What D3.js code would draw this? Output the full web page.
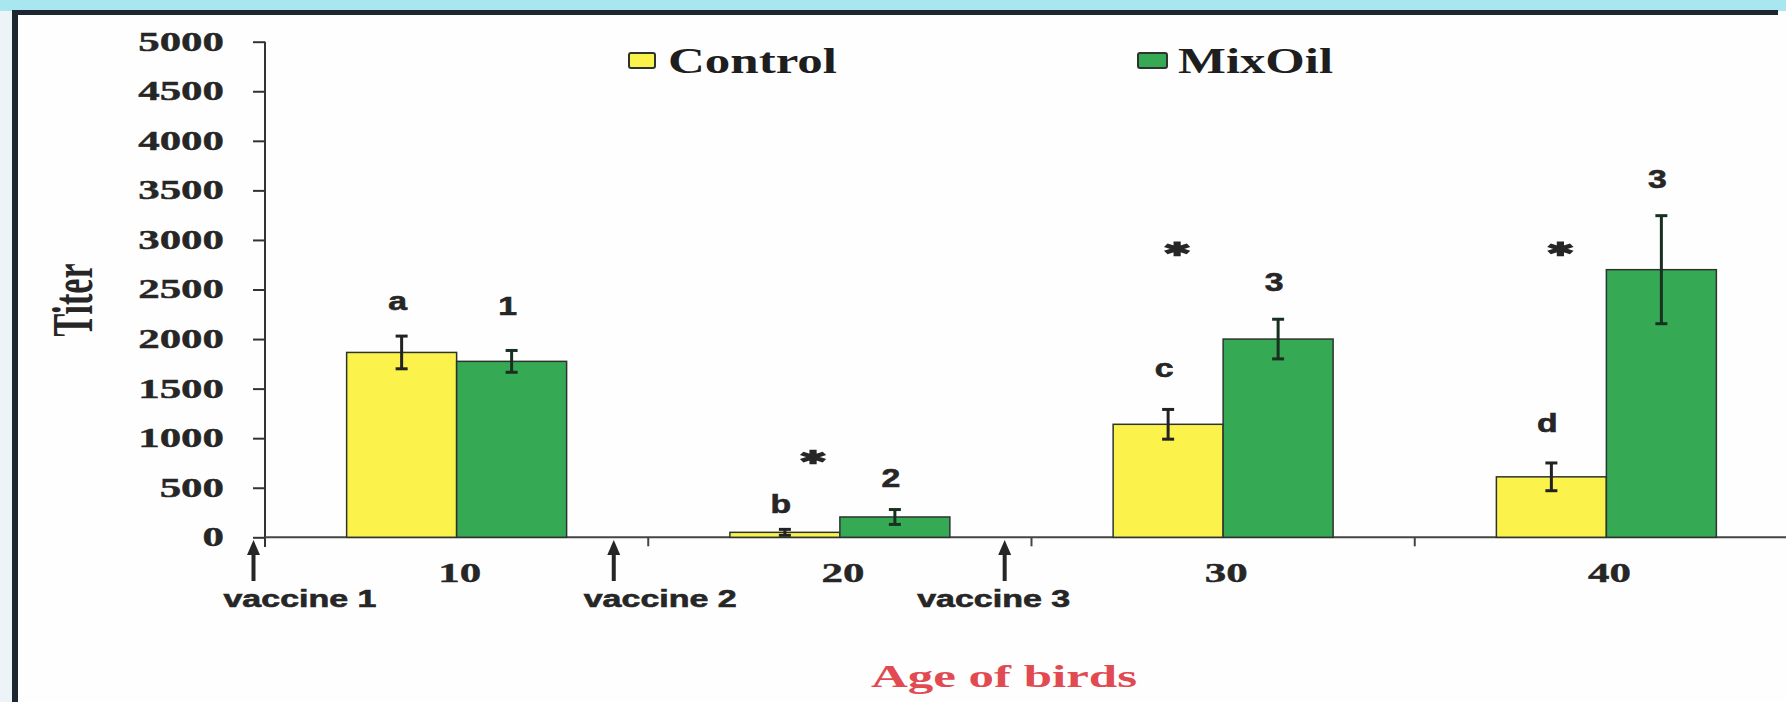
<!DOCTYPE html>
<html>
<script src="https://d3js.org/d3.v7.min.js"></script>
<style>
body {margin:0; background:#fff;}
svg text {font-weight:bold;}
</style>
<body onload="init()">
<svg></svg>
<script>

// values
var ages = [10, 20, 30, 40]
var groups = ["Control", "MixOil"]
var control = [1865, 50, 1140, 610]
var controlErr = [165, 30, 150, 140]
var mixoil = [1775, 205, 2000, 2700]
var mixoilErr = [110, 75, 200, 545]
var controlLetters = ["a", "b", "c", "d"]
var mixoilLetters = ["1", "2", "3", "3"]
var controlLetterAt = [2290, 250, 1620, 1060]
var mixoilLetterAt = [2240, 510, 2480, 3520]
var starDay = [19.3, 28.8, 38.8]
var starAt = [810, 2910, 2910]
var vaccines = ["vaccine 1", "vaccine 2", "vaccine 3"]
var vaccineDay = [4.7, 14.1, 24.3]
var vaccineLabelDay = [5.9, 15.3, 24.0]
var yTicks = [0, 500, 1000, 1500, 2000, 2500, 3000, 3500, 4000, 4500, 5000]

var colors = {Control: "#fcf24c", MixOil: "#36a955"}
var ink = "#262626"

function init() {
   var W = 1786, H = 702
   var svg = d3.select("svg").attr("width", W).attr("height", H)

   // frame of the scanned slide
   svg.append("rect").attr("width", W).attr("height", H).attr("fill", "#fefefe")
   svg.append("rect").attr("width", 12).attr("height", H).attr("fill", "#edf4f7")
   svg.append("rect").attr("width", W).attr("height", 11).attr("fill", "#a9e7f0")
   svg.append("rect").attr("x", 12).attr("y", 10).attr("width", 1766).attr("height", 5).attr("fill", "#1d2731")
   svg.append("rect").attr("x", 12).attr("y", 10).attr("width", 6).attr("height", H - 10).attr("fill", "#1d2731")

   var y = d3.scaleLinear().domain([0, 5000]).range([537.3, 41.7])
   var x0 = d3.scaleBand().domain(ages).range([265, 1798]).paddingInner(0.426).paddingOuter(0.213)
   var x1 = d3.scaleBand().domain(groups).range([0, x0.bandwidth()])
   var xAge = d3.scaleLinear().domain([5, 45]).range([265, 1798])

   // y axis
   var SX = 1.62
   var yAxis = svg.append("g").attr("transform", "translate(265,0)")
      .call(d3.axisLeft(y).tickValues(yTicks).tickFormat(d3.format("d"))
         .tickSize(12).tickSizeOuter(0).tickPadding(29))
   yAxis.select(".domain").remove()
   yAxis.selectAll("line").attr("stroke", "#333").attr("stroke-width", 2)
   yAxis.selectAll("text")
      .attr("font-family", "Liberation Serif").attr("font-size", 26.5).attr("fill", ink)
      .attr("stroke", ink).attr("stroke-width", 0.4)
      .attr("x", -41 / SX).attr("transform", "scale(" + SX + ",1)")
   svg.append("line").attr("x1", 265).attr("x2", 265).attr("y1", y(5000)).attr("y2", 547)
      .attr("stroke", "#333").attr("stroke-width", 2)

   // x axis
   var xAxis = svg.append("g").attr("transform", "translate(0," + y(0) + ")")
      .call(d3.axisBottom(x0).tickSize(0).tickPadding(26))
   xAxis.select(".domain").remove()
   xAxis.selectAll("text")
      .attr("font-family", "Liberation Serif").attr("font-size", 26.5).attr("fill", ink)
      .attr("stroke", ink).attr("stroke-width", 0.4)
      .attr("transform", "translate(3,0) scale(" + SX + ",1)")
   svg.append("line").attr("x1", 265).attr("x2", W).attr("y1", y(0)).attr("y2", y(0))
      .attr("stroke", "#444").attr("stroke-width", 2)
   svg.selectAll(".bound").data([15, 25, 35]).enter().append("line")
      .attr("x1", function(d) { return xAge(d) }).attr("x2", function(d) { return xAge(d) })
      .attr("y1", y(0)).attr("y2", y(0) + 9)
      .attr("stroke", "#444").attr("stroke-width", 2)

   // bars
   var rows = ages.map(function(a, i) {
      return [
         {age: a, key: "Control", v: control[i], e: controlErr[i], lab: controlLetters[i], labAt: controlLetterAt[i]},
         {age: a, key: "MixOil", v: mixoil[i], e: mixoilErr[i], lab: mixoilLetters[i], labAt: mixoilLetterAt[i]}
      ]
   })
   var cells = [].concat.apply([], rows)
   function cx(d) { return x0(d.age) + x1(d.key) + x1.bandwidth() / 2 }

   svg.selectAll(".bar").data(cells).enter().append("rect")
      .attr("x", function(d) { return x0(d.age) + x1(d.key) })
      .attr("y", function(d) { return y(d.v) })
      .attr("width", x1.bandwidth())
      .attr("height", function(d) { return y(0) - y(d.v) })
      .attr("fill", function(d) { return colors[d.key] })
      .attr("stroke", "#2d3430").attr("stroke-width", 1.5)

   // error bars
   var err = svg.selectAll(".err").data(cells).enter().append("g")
      .attr("stroke", function(d) { return d.key == "Control" ? "#222" : "#17301f" })
      .attr("stroke-width", 3)
   err.append("line")
      .attr("x1", cx).attr("x2", cx)
      .attr("y1", function(d) { return y(d.v + d.e) })
      .attr("y2", function(d) { return y(Math.max(0, d.v - d.e)) })
   err.append("line")
      .attr("x1", function(d) { return cx(d) - 6 }).attr("x2", function(d) { return cx(d) + 6 })
      .attr("y1", function(d) { return y(d.v + d.e) }).attr("y2", function(d) { return y(d.v + d.e) })
   err.append("line")
      .attr("x1", function(d) { return cx(d) - 6 }).attr("x2", function(d) { return cx(d) + 6 })
      .attr("y1", function(d) { return y(Math.max(0, d.v - d.e)) })
      .attr("y2", function(d) { return y(Math.max(0, d.v - d.e)) })

   // significance letters
   svg.selectAll(".lab").data(cells).enter().append("text")
      .attr("transform", function(d) { return "translate(" + (cx(d) - 4) + "," + y(d.labAt) + ") scale(1.35,1)" })
      .attr("text-anchor", "middle")
      .attr("font-family", "Liberation Sans").attr("font-size", 25).attr("fill", ink)
      .attr("stroke", ink).attr("stroke-width", 0.6)
      .text(function(d) { return d.lab })

   // asterisks
   svg.selectAll(".star").data(starDay).enter().append("path")
      .attr("d", d3.symbol(d3.symbolAsterisk).size(150))
      .attr("transform", function(d, i) {
         return "translate(" + xAge(d) + "," + y(starAt[i]) + ") scale(1.8,1)"
      })
      .attr("fill", "none").attr("stroke", ink).attr("stroke-width", 4)

   // vaccine arrows
   var vac = svg.selectAll(".vac").data(vaccines).enter().append("g")
   vac.append("line")
      .attr("x1", function(d, i) { return xAge(vaccineDay[i]) })
      .attr("x2", function(d, i) { return xAge(vaccineDay[i]) })
      .attr("y1", 552).attr("y2", 581)
      .attr("stroke", ink).attr("stroke-width", 4)
   vac.append("path")
      .attr("d", function(d, i) {
         var x = xAge(vaccineDay[i])
         return "M" + x + ",540L" + (x + 6.5) + ",555L" + (x - 6.5) + ",555Z"
      })
      .attr("fill", ink)
   vac.append("text")
      .attr("x", function(d, i) { return xAge(vaccineLabelDay[i]) - 76 })
      .attr("y", 607)
      .attr("textLength", 153).attr("lengthAdjust", "spacingAndGlyphs")
      .attr("font-family", "Liberation Sans").attr("font-size", 23).attr("fill", ink)
      .attr("stroke", ink).attr("stroke-width", 0.6)
      .text(function(d) { return d })

   // legend
   var legX = [629, 1138], legText = [668, 1178], legLen = [169, 155]
   var leg = svg.selectAll(".leg").data(groups).enter().append("g")
   leg.append("rect")
      .attr("x", function(d, i) { return legX[i] }).attr("y", 53)
      .attr("width", function(d, i) { return i ? 29 : 26 }).attr("height", 15).attr("rx", 2)
      .attr("fill", function(d) { return colors[d] })
      .attr("stroke", "#2d3430").attr("stroke-width", 2)
   leg.append("text")
      .attr("x", function(d, i) { return legText[i] }).attr("y", 73)
      .attr("textLength", function(d, i) { return legLen[i] }).attr("lengthAdjust", "spacingAndGlyphs")
      .attr("font-family", "Liberation Serif").attr("font-size", 36).attr("fill", "#1e1e1e")
      .text(function(d) { return d })

   // axis titles
   svg.append("text")
      .attr("transform", "translate(92,300) scale(1.7,1) rotate(-90)")
      .attr("text-anchor", "middle")
      .attr("font-family", "Liberation Serif").attr("font-size", 34).attr("fill", ink)
      .text("Titer")

   svg.append("text")
      .attr("x", 871).attr("y", 687)
      .attr("textLength", 266).attr("lengthAdjust", "spacingAndGlyphs")
      .attr("font-family", "Liberation Serif").attr("font-size", 31).attr("fill", "#e24a52")
      .text("Age of birds")
}

</script>
</body>
</html>
